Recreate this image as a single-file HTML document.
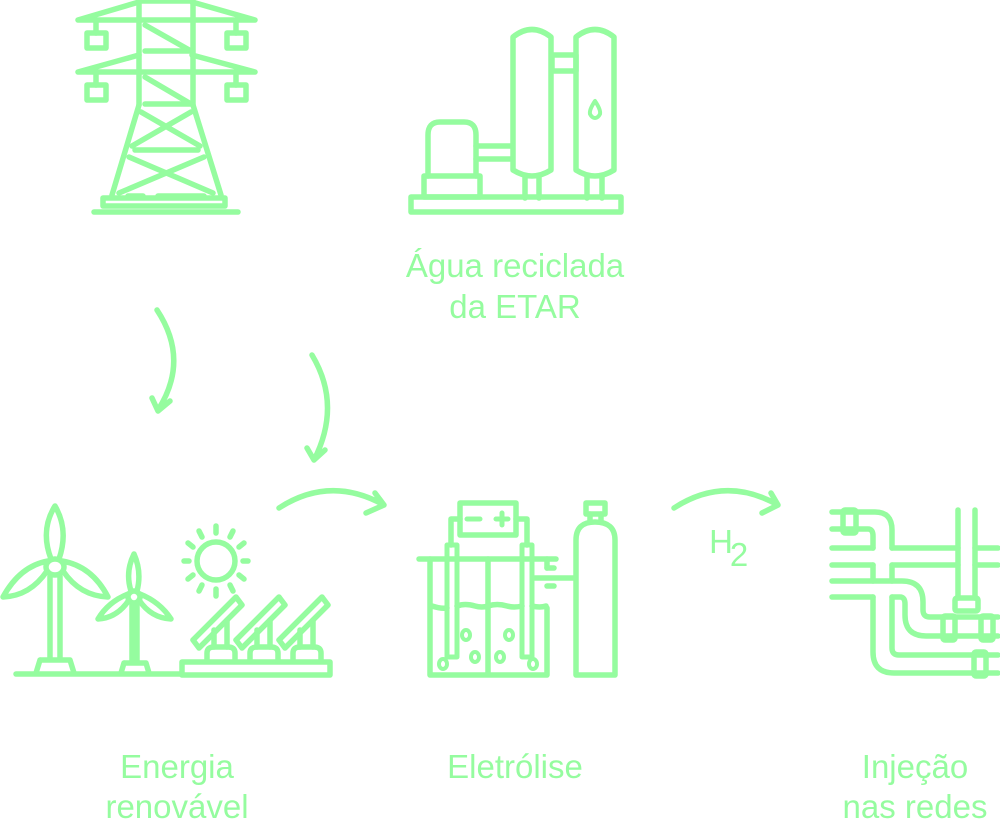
<!DOCTYPE html>
<html><head><meta charset="utf-8"><style>
html,body{margin:0;padding:0;background:#fff;}
svg{display:block;}
text{font-family:"Liberation Sans",sans-serif;fill:#95fc9f;font-size:33px;text-anchor:middle;}
</style></head><body>
<svg width="1000" height="821" viewBox="0 0 1000 821" xmlns="http://www.w3.org/2000/svg">
<g fill="none" stroke="#95fc9f" stroke-width="5.5" stroke-linecap="round" stroke-linejoin="round">
<!-- Tower -->
<path d="M139,1 H192 M78,20 L139,2 M192,2 L255,20 M78,20 H255"/>
<path d="M78,72 L139,55 M192,55 L255,72 M78,72 H255"/>
<path d="M139,1 V105 M193,1 V105"/>
<path d="M96,20 V33 M236,20 V33 M96,72 V85 M236,72 V85"/>
<rect x="87" y="33" width="19" height="15"/><rect x="227" y="33" width="19" height="15"/>
<rect x="87" y="85" width="19" height="15"/><rect x="227" y="85" width="19" height="15"/>
<path d="M145,25 L191,51 H145 M145,77 L191,104 H145"/>
<path d="M139,105 L112,195 M193,105 L221,195"/>
<path d="M141,112 L200,146 M191,112 L132,146 M135,150 H198"/>
<path d="M129,157 L213,193 M204,157 L119,193 M128,196 H143 M158,196 H204"/>
<rect x="103" y="198" width="122" height="8"/>
<path d="M94,212 H238"/>
<!-- Water plant -->
<path d="M513,37 Q532,22 551,37 V170 Q532,182 513,170 Z"/>
<path d="M576,37 Q595,22 614,37 V170 Q595,182 576,170 Z"/>
<rect x="552" y="55" width="24" height="16"/>
<path d="M595,101 Q589,110 590,114 Q592,118 595,118 Q598,118 600,114 Q601,110 595,101 Z" stroke-width="4"/>
<path d="M428,176 V135 Q428,122 440,122 H464 Q476,122 476,135 V176"/>
<rect x="424" y="176" width="56" height="21"/>
<path d="M476,146 H511 M476,159 H511"/>
<path d="M525,176 V198 M539,176 V198 M587,176 V198 M602,176 V198"/>
<rect x="411" y="197" width="210" height="15"/>
<!-- Arrows -->
<path d="M157,310 Q190,360 158,410 M152,398 L158,411 L170,401"/>
<path d="M312,355 Q342,405 314,460 M307,448 L314,460 L325,450"/>
<path d="M279,508 Q330,475 384,505 M375,493 L384,505 L366,513"/>
<path d="M674,508 Q725,475 778,505 M771,493 L778,505 L762,513"/>
<!-- Wind turbines -->
<ellipse cx="55" cy="567" rx="9" ry="8"/>
<path d="M51,559 Q40,530 55,506 Q69,530 59,559"/>
<path d="M47,571 Q30,596 3,597 Q20,566 48,561"/>
<path d="M63,571 Q80,596 108,597 Q92,566 62,561"/>
<path d="M50,576 V660 M60,576 V660 M40,660 H70 L74,673 M40,660 L36,673"/>
<circle cx="134" cy="597" r="6"/>
<path d="M131,591 Q125,572 134,554 Q142,572 137,591"/>
<path d="M129,600 Q117,618 98,619 Q108,602 128,594"/>
<path d="M139,600 Q151,618 171,619 Q160,602 140,594"/>
<path d="M132,604 V662 M137,604 V662 M124,663 H146 L149,673 M124,663 L121,673"/>
<path d="M16,674 H182"/>
<!-- Sun -->
<ellipse cx="216" cy="561" rx="19" ry="19"/>
<path d="M216,526 V533 M216,589 V596 M184,561 H189 M243,561 H248 M199,531 L202,537 M233,531 L230,537 M199,591 L202,585 M233,591 L230,585 M188,543 L193,547 M244,543 L239,547 M188,579 L193,575 M244,579 L239,575" />
<!-- Solar panels -->
<rect x="182" y="662" width="148" height="13"/>
<g>
<path d="M207,661 V653 Q207,647 214,647 H228 Q235,647 235,653 V661"/>
<path d="M214,647 V630 M227,647 V620"/>
<path d="M193,640 L236,597 L242,605 L199,648 Z"/>
</g>
<g transform="translate(43,0)">
<path d="M207,661 V653 Q207,647 214,647 H228 Q235,647 235,653 V661"/>
<path d="M214,647 V630 M227,647 V620"/>
<path d="M193,640 L236,597 L242,605 L199,648 Z"/>
</g>
<g transform="translate(86,0)">
<path d="M207,661 V653 Q207,647 214,647 H228 Q235,647 235,653 V661"/>
<path d="M214,647 V630 M227,647 V620"/>
<path d="M193,640 L236,597 L242,605 L199,648 Z"/>
</g>
<!-- Electrolyzer -->
<rect x="460" y="503" width="56" height="32"/>
<path d="M467,519 H480 M496,519 H508 M502,513 V525" stroke-width="5"/>
<path d="M460,519 H451 V545 M516,519 H527 V545"/>
<rect x="447" y="545" width="10" height="112" stroke-width="5"/>
<rect x="522" y="545" width="10" height="112" stroke-width="5"/>
<path d="M419,559 H556"/>
<path d="M430,559 V675 H547 V608 M547,559 V568 M488,559 V675"/>
<path d="M432,606 Q441,609 447,608 M457,606 Q465,603 475,606 Q482,608 488,606 Q497,603 507,606 Q514,608 522,606 M532,606 Q540,608 546,606"/>
<path d="M535,578 H574 M547,568 H554 M547,586 H554"/>
<g stroke-width="4">
<ellipse cx="466" cy="635" rx="4" ry="5"/><ellipse cx="509" cy="635" rx="4" ry="5"/>
<ellipse cx="475" cy="657" rx="4" ry="5"/><ellipse cx="500" cy="657" rx="4" ry="5"/>
<ellipse cx="443" cy="664" rx="4" ry="5"/><ellipse cx="533" cy="664" rx="4" ry="5"/>
</g>
<path d="M576,675 V540 Q576,522 595,522 Q615,522 615,540 V675 Z"/>
<path d="M590,522 V514 M601,522 V514"/>
<rect x="586" y="503" width="19" height="11"/>
<!-- Pipes -->
<path d="M832,512 H875 Q892,512 892,530 V548 M832,529 H868 Q873,529 873,536 V548"/>
<rect x="843" y="510" width="13" height="23" rx="2"/>
<path d="M832,548 H873 M892,548 H958 M975,548 H998 M832,565 H873 M892,565 H958 M975,565 H998"/>
<path d="M873,565 V581 M892,565 V581"/>
<path d="M958,510 V598 M975,510 V598"/>
<path d="M832,581 H902 Q923,581 923,602 V610 Q923,617 930,617 H998"/>
<path d="M832,597 H873 M892,597 H900 Q905,597 905,604 V615 Q905,636 926,636 H998"/>
<path d="M873,597 V652 Q873,673 894,673 H998 M892,597 V648 Q892,655 899,655 H998"/>
<rect x="955" y="598" width="23" height="13" rx="2"/>
<rect x="943" y="616" width="12" height="24" rx="2"/>
<rect x="981" y="616" width="12" height="24" rx="2"/>
<rect x="974" y="652" width="12" height="24" rx="2"/>
</g>
<text x="515" y="277">Água reciclada</text>
<text x="515" y="318">da ETAR</text>
<text x="177" y="778">Energia</text>
<text x="177" y="818">renovável</text>
<text x="515" y="778">Eletrólise</text>
<text x="915" y="778">Injeção</text>
<text x="915" y="818">nas redes</text>
<text x="721" y="553" font-size="33">H</text>
<text x="739" y="566" font-size="20">2</text>
</svg>
</body></html>
